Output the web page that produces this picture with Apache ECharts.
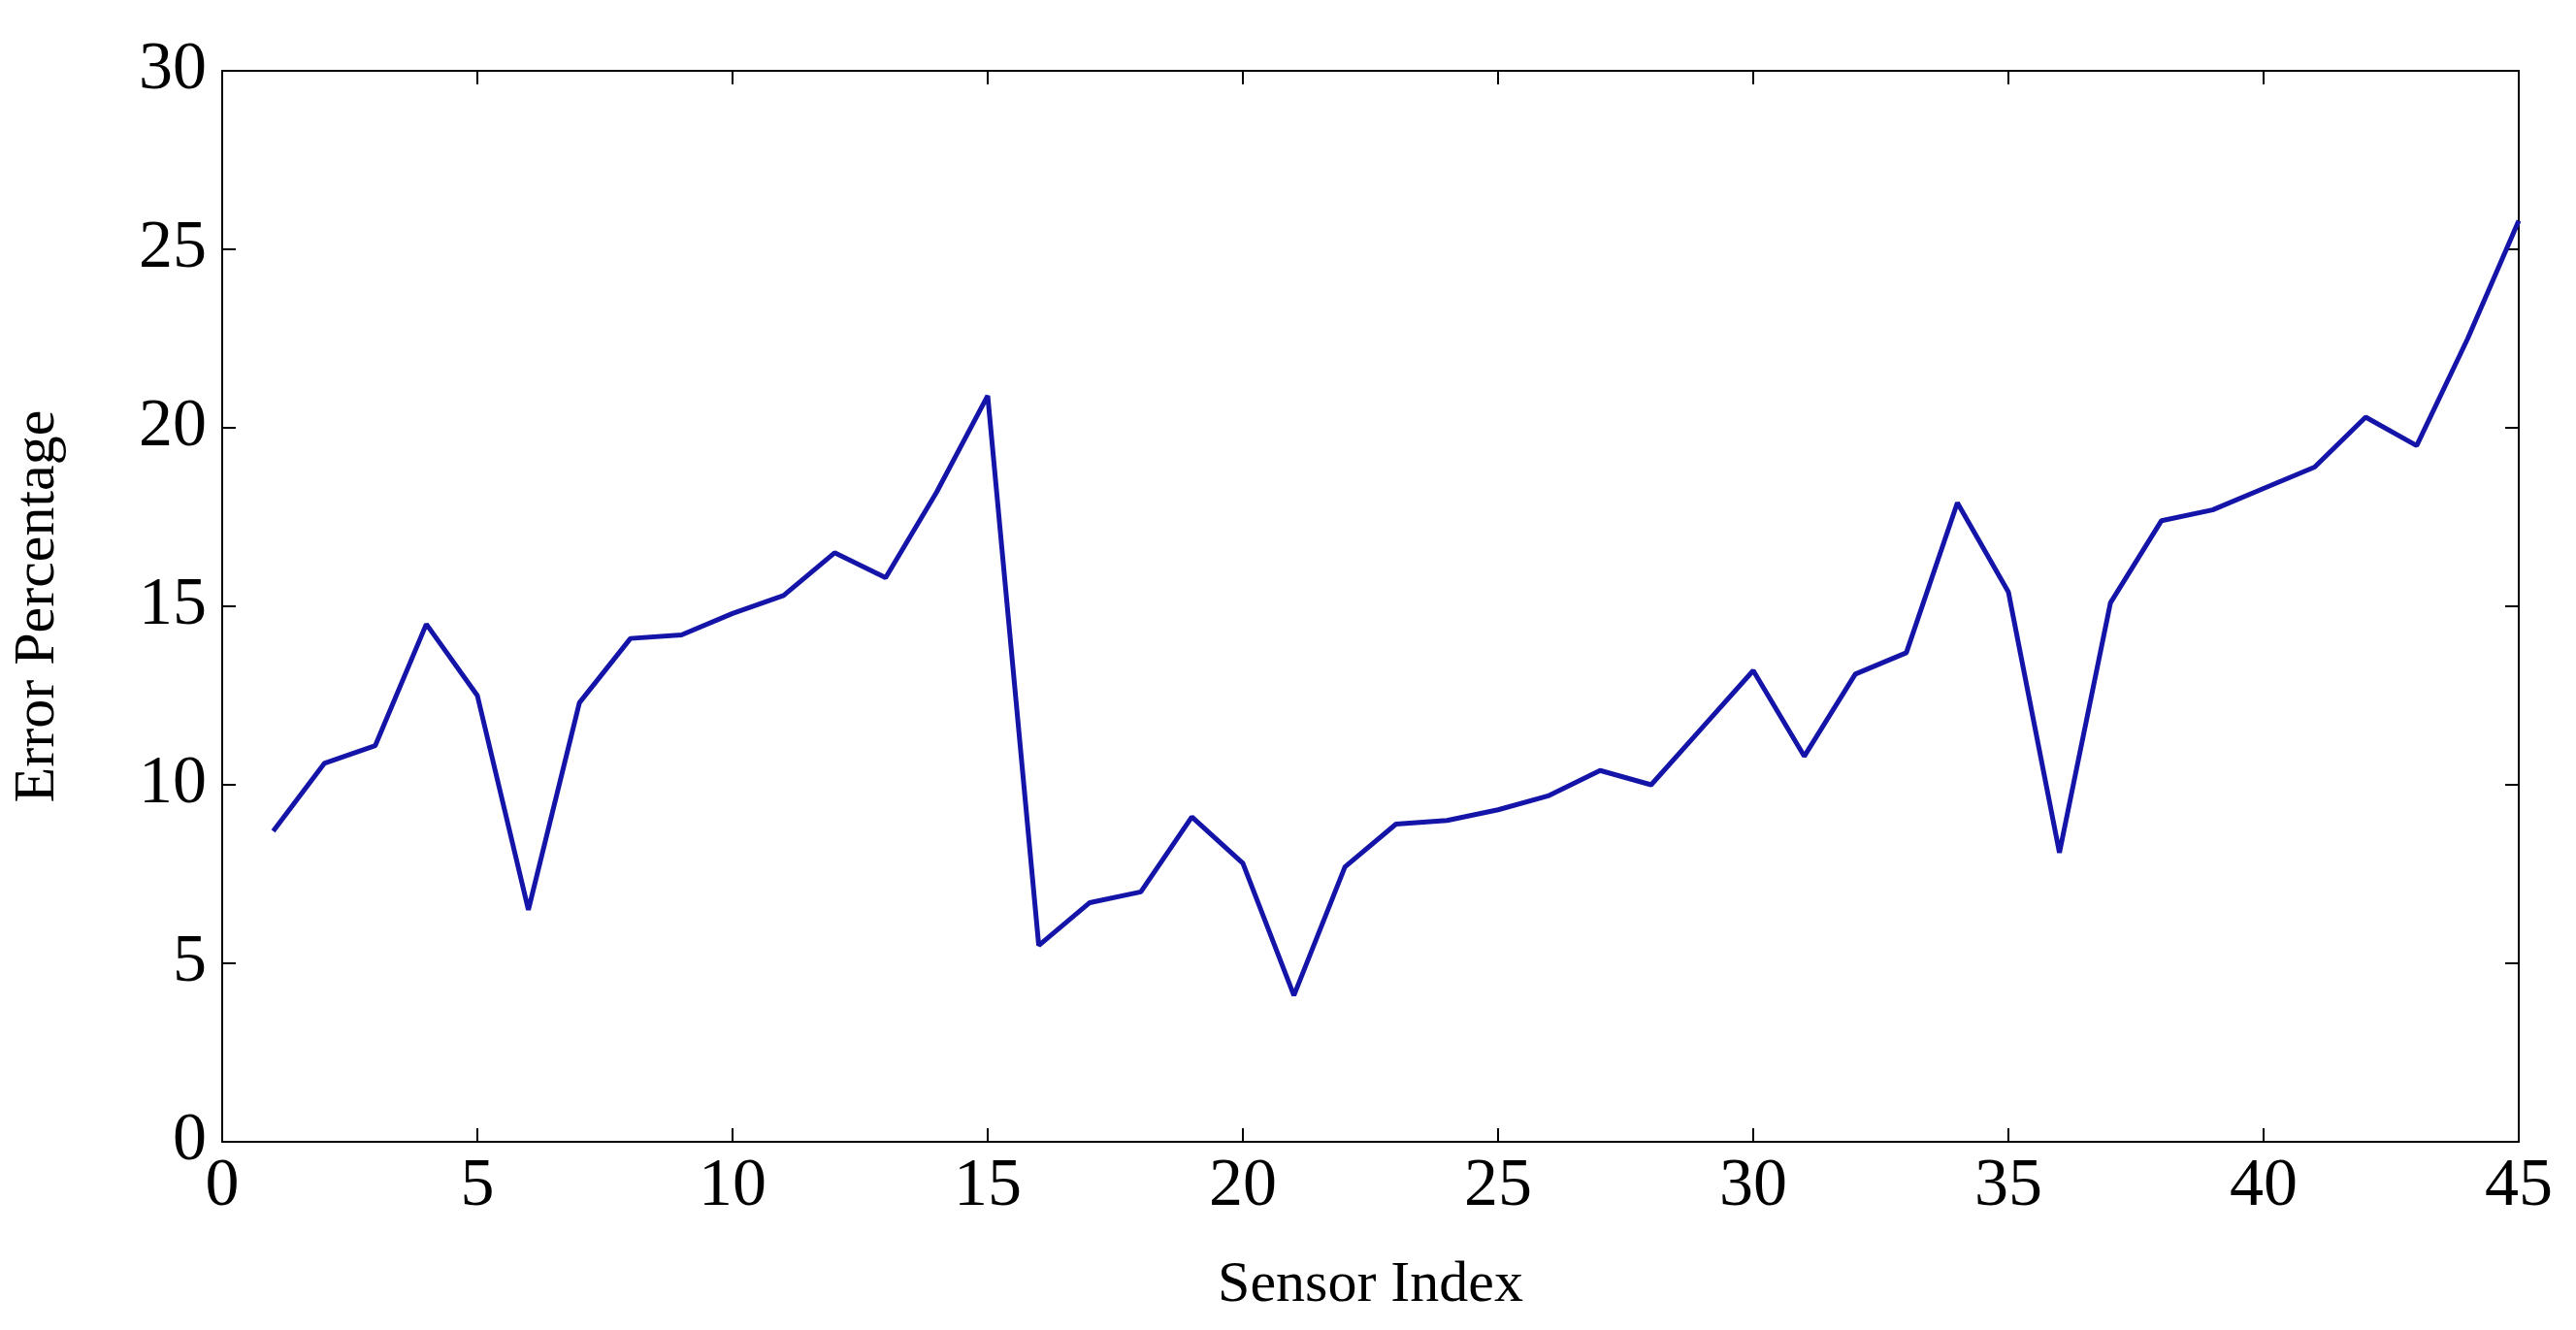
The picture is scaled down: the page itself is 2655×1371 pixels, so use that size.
<!DOCTYPE html><html><head><meta charset="utf-8"><script src="https://cdn.jsdelivr.net/npm/echarts@6/dist/echarts.min.js"></script>
<style>html,body{margin:0;background:#fff}#c{width:2655px;height:1371px}</style></head><body><div id="c"></div><script>
const sensorIndex=[1,2,3,4,5,6,7,8,9,10,11,12,13,14,15,16,17,18,19,20,21,22,23,24,25,26,27,28,29,30,31,32,33,34,35,36,37,38,39,40,41,42,43,44,45];
const errorPct=[8.7,10.6,11.1,14.5,12.5,6.5,12.3,14.1,14.2,14.8,15.3,16.5,15.8,18.2,20.9,5.5,6.7,7.0,9.1,7.8,4.1,7.7,8.9,9.0,9.3,9.7,10.4,10.0,11.6,13.2,10.8,13.1,13.7,17.9,15.4,8.1,15.1,17.4,17.7,18.3,18.9,20.3,19.5,22.5,25.8];
const font='"Liberation Serif","DejaVu Serif",serif';
function ax(){return {axisLine:{show:true,onZero:false,lineStyle:{color:'#000',width:2}},axisTick:{show:true,inside:true,length:14,lineStyle:{color:'#000',width:2}},splitLine:{show:false}};}
const chart=echarts.init(document.getElementById('c'));
chart.setOption({animation:false,
grid:{left:229,right:59,top:73,bottom:194},
xAxis:[Object.assign({type:'value',min:0,max:45,interval:5,name:'Sensor Index',nameLocation:'middle',nameGap:118,nameTextStyle:{fontFamily:font,fontSize:60,color:'#000'},axisLabel:{fontFamily:font,fontSize:70,color:'#000',margin:12}},ax()),
Object.assign({type:'value',position:'top',min:0,max:45,interval:5,axisLabel:{show:false}},ax())],
yAxis:[Object.assign({type:'value',min:0,max:30,interval:5,name:'Error Percentage',nameLocation:'middle',nameGap:160,nameTextStyle:{fontFamily:font,fontSize:60,color:'#000'},axisLabel:{fontFamily:font,fontSize:70,color:'#000',margin:16}},ax()),
Object.assign({type:'value',position:'right',min:0,max:30,interval:5,axisLabel:{show:false}},ax())],
series:[{type:'line',data:sensorIndex.map((x,i)=>[x,errorPct[i]]),symbol:'none',lineStyle:{color:'#1414a8',width:5}}]});
</script></body></html>
